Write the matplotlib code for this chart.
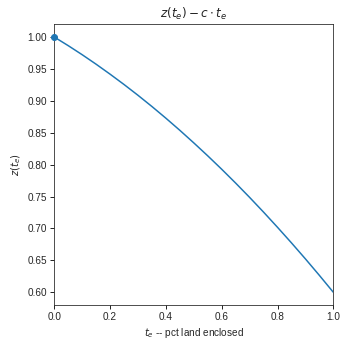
import numpy as np
import matplotlib
matplotlib.use("Agg")
import matplotlib.pyplot as plt
import seaborn as sns

# share of land enclosed and the objective value
t_e = [0.00, 0.05, 0.10, 0.15, 0.20, 0.25, 0.30, 0.35, 0.40, 0.45, 0.50,
       0.55, 0.60, 0.65, 0.70, 0.75, 0.80, 0.85, 0.90, 0.95, 1.00]
z_val = [1.0000, 0.9865, 0.9723, 0.9574, 0.9418, 0.9256, 0.9087, 0.8911, 0.8728, 0.8538, 0.8341,
         0.8138, 0.7928, 0.7711, 0.7487, 0.7256, 0.7018, 0.6774, 0.6523, 0.6265, 0.6000]

# optimum marked on the curve
opt_t = [0.0]
opt_z = [1.0]

sns.set_style("ticks")
plt.rcParams["font.family"] = ["Liberation Sans", "DejaVu Sans"]

W, H = 347, 340
fig = plt.figure(figsize=(W / 72, H / 72), dpi=72)
ax = fig.add_axes([54.3 / W, (H - 305) / H, 279 / W, 280.7 / H])

ax.plot(t_e, z_val, color="#1f77b4", lw=1.5)
ax.plot(opt_t, opt_z, "o", color="#1f77b4", ms=6, clip_on=False, zorder=5)

ax.set_xlim(0, 1)
ax.set_ylim(0.58, 1.02)
ax.tick_params(direction="out", length=4, width=1, colors="#262626")
ax.set_title(r"$z(t_e) - c \cdot t_e$")
ax.set_ylabel(r"$z(t_e)$")
ax.set_xlabel(r"$t_e$ -- pct land enclosed")

fig.savefig("out.png", dpi=72)
